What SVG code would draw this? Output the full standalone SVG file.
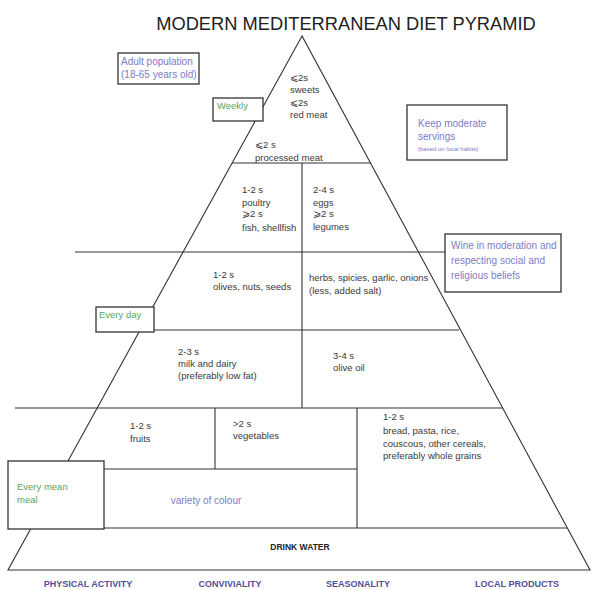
<svg xmlns="http://www.w3.org/2000/svg" width="595" height="590" viewBox="0 0 595 590">
<style>
.ln{stroke:#333;stroke-width:1.1;fill:none}
.bx{stroke:#333;stroke-width:1.3;fill:#fff}
.t{font-family:"Liberation Sans",Arial,sans-serif;font-size:9.5px;fill:#3a3a3a}
.g{font-family:"Liberation Sans",Arial,sans-serif;font-size:9.5px;fill:#5aa55a}
.p{font-family:"Liberation Sans",Arial,sans-serif;font-size:10px;fill:#7c7cc8}
.s{font-size:6px}
.b{font-family:"Liberation Sans",Arial,sans-serif;font-size:9px;font-weight:bold;fill:#4f4f9c}
</style>
<rect width="595" height="590" fill="#fff"/>
<text x="346" y="30" text-anchor="middle" font-family="Liberation Sans,Arial,sans-serif" font-size="18.3" fill="#222">MODERN MEDITERRANEAN DIET PYRAMID</text>
<g id="connectors">
<polygon class="ln" points="302,36 8,570 590,570"/>
<line class="ln" x1="232" y1="163" x2="371" y2="163"/>
<line class="ln" x1="75" y1="252" x2="445" y2="252"/>
<line class="ln" x1="151" y1="330" x2="459" y2="330"/>
<line class="ln" x1="15" y1="408" x2="503" y2="408"/>
<line class="ln" x1="104" y1="469" x2="357" y2="469"/>
<line class="ln" x1="31" y1="528" x2="567" y2="528"/>
<line class="ln" x1="302" y1="163" x2="302" y2="408"/>
<line class="ln" x1="215" y1="408" x2="215" y2="469"/>
<line class="ln" x1="357" y1="408" x2="357" y2="528"/>
</g>
<g id="tier-weekly-top">
<text class="t" x="290" y="81">⩽2s</text>
<text class="t" x="290" y="93">sweets</text>
<text class="t" x="290" y="106">⩽2s</text>
<text class="t" x="290" y="118">red meat</text>
<text class="t" x="255" y="148">⩽2 s</text>
<text class="t" x="255" y="161">processed meat</text>
</g>
<g id="tier-poultry">
<text class="t" x="242" y="193">1-2 s</text>
<text class="t" x="242" y="206">poultry</text>
<text class="t" x="242" y="217">⩾2 s</text>
<text class="t" x="242" y="231">fish, shellfish</text>
</g>
<g id="tier-eggs">
<text class="t" x="313" y="193">2-4 s</text>
<text class="t" x="313" y="206">eggs</text>
<text class="t" x="313" y="217">⩾2 s</text>
<text class="t" x="313" y="230">legumes</text>
</g>
<g id="tier-olives">
<text class="t" x="213" y="278">1-2 s</text>
<text class="t" x="213" y="290">olives, nuts, seeds</text>
</g>
<g id="tier-herbs">
<text class="t" x="309" y="281">herbs, spicies, garlic, onions</text>
<text class="t" x="309" y="294">(less, added salt)</text>
</g>
<g id="tier-milk">
<text class="t" x="178" y="355">2-3 s</text>
<text class="t" x="178" y="367">milk and dairy</text>
<text class="t" x="178" y="379">(preferably low fat)</text>
</g>
<g id="tier-oil">
<text class="t" x="333" y="359">3-4 s</text>
<text class="t" x="333" y="371">olive oil</text>
</g>
<g id="tier-fruits">
<text class="t" x="130" y="429">1-2 s</text>
<text class="t" x="130" y="442">fruits</text>
</g>
<g id="tier-vegetables">
<text class="t" x="233" y="427">&gt;2 s</text>
<text class="t" x="233" y="439">vegetables</text>
</g>
<g id="tier-cereals">
<text class="t" x="383" y="420">1-2 s</text>
<text class="t" x="383" y="434">bread, pasta, rice,</text>
<text class="t" x="383" y="447">couscous, other cereals,</text>
<text class="t" x="383" y="459">preferably whole grains</text>
</g>
<g id="tier-colour">
<text class="p" x="206" y="504" text-anchor="middle">variety of colour</text>
</g>
<g id="tier-water">
<text x="300" y="550" text-anchor="middle" font-family="Liberation Sans,Arial,sans-serif" font-size="8.5" font-weight="bold" fill="#222">DRINK WATER</text>
</g>
<g id="box-adult">
<rect class="bx" x="118" y="53" width="81" height="31"/>
<text class="p" x="121" y="65">Adult population</text>
<text class="p" x="121" y="78">(18-65 years old)</text>
</g>
<g id="box-weekly">
<rect class="bx" x="213" y="98" width="50" height="23"/>
<text class="g" x="217" y="109">Weekly</text>
</g>
<g id="box-moderate">
<rect class="bx" x="407" y="105" width="100" height="55"/>
<text class="p" x="418" y="127">Keep moderate</text>
<text class="p" x="418" y="140">servings</text>
<text class="p s" x="418" y="151">(based on local habits)</text>
</g>
<g id="box-wine">
<rect class="bx" x="445" y="234" width="116" height="58"/>
<text class="p" x="451" y="249">Wine in moderation and</text>
<text class="p" x="451" y="264">respecting social and</text>
<text class="p" x="451" y="279">religious beliefs</text>
</g>
<g id="box-everyday">
<rect class="bx" x="96" y="307" width="58" height="25"/>
<text class="g" x="99" y="318">Every day</text>
</g>
<g id="box-meal">
<rect class="bx" x="8" y="461" width="96" height="68"/>
<text class="g" x="17" y="490">Every mean</text>
<text class="g" x="17" y="503">meal</text>
</g>
<g id="footer">
<text class="b" x="88" y="587" text-anchor="middle">PHYSICAL ACTIVITY</text>
<text class="b" x="230" y="587" text-anchor="middle">CONVIVIALITY</text>
<text class="b" x="358" y="587" text-anchor="middle">SEASONALITY</text>
<text class="b" x="517" y="587" text-anchor="middle">LOCAL PRODUCTS</text>
</g>
</svg>
